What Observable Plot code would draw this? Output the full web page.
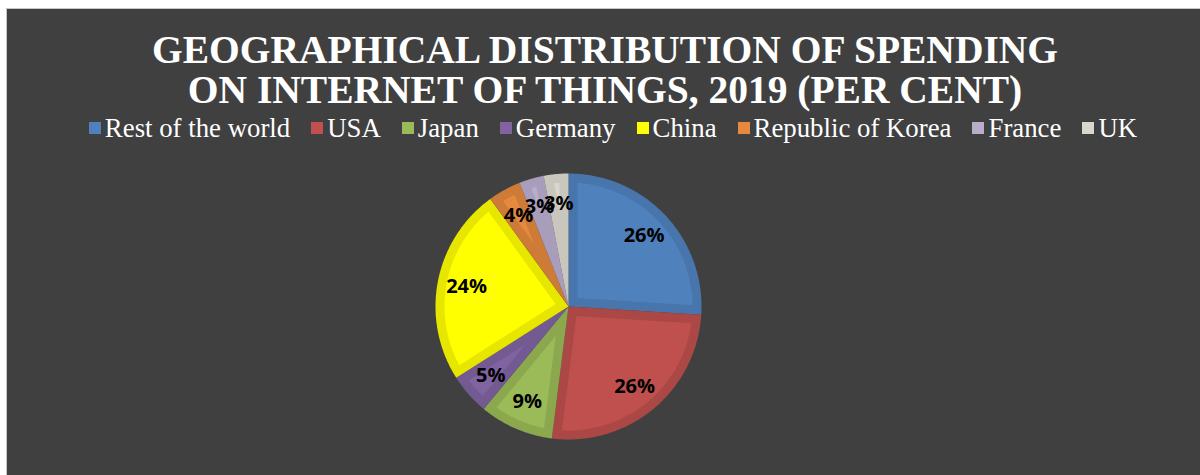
<!DOCTYPE html>
<html>
<head>
<meta charset="utf-8">
<script src="https://cdn.jsdelivr.net/npm/d3@7"></script>
<script src="https://cdn.jsdelivr.net/npm/@observablehq/plot@0.6"></script>
<style>
html, body { margin: 0; padding: 0; background: #ffffff; width: 1200px; height: 475px; overflow: hidden; }
#frame { position: absolute; left: 6px; top: 8px; width: 1194px; height: 467px; background: #404040; border-left: 1px solid #c6c6c6; border-top: 1px solid #c6c6c6; box-sizing: border-box; }
#title { position: absolute; left: 0; top: 30px; width: 1210px; text-align: center; font: bold 39.5px/40px "Liberation Serif", "Times New Roman", serif; color: #ffffff; white-space: nowrap; }
#legend { position: absolute; left: 0; top: 113px; width: 1226px; text-align: center; font: 26.8px/30px "Liberation Serif", "Times New Roman", serif; color: #ffffff; white-space: nowrap; }
#legend .item { display: inline-block; margin-right: 21px; }
#legend .item:last-child { margin-right: 0; }
#legend .sw { display: inline-block; width: 12px; height: 12px; margin-right: 4px; position: relative; top: -3px; vertical-align: baseline; }
#chart { position: absolute; left: 428px; top: 166px; }
</style>
</head>
<body>
<div id="frame"></div>
<div id="title">GEOGRAPHICAL DISTRIBUTION OF SPENDING<br>ON INTERNET OF THINGS, 2019 (PER CENT)</div>
<div id="legend"></div>
<div id="chart"></div>
<script>
// ---- data ----
const categories = ["Rest of the world", "USA", "Japan", "Germany", "China", "Republic of Korea", "France", "UK"];
const shares = [26, 26, 9, 5, 24, 4, 3, 3];
const labels = ["26%", "26%", "9%", "5%", "24%", "4%", "3%", "3%"];

// ---- palette ----
const mainColors = ["#4F81BD", "#C0504D", "#9BBB59", "#8064A2", "#FFFF00", "#E5893F", "#B8ADCB", "#D9D6CD"];
const edgeColors = ["#4775AC", "#AB4845", "#8BA84F", "#735A92", "#E6E600", "#CF7B38", "#A89DBB", "#C9C6BD"];

// ---- legend ----
const legend = document.getElementById("legend");
categories.forEach((c, i) => {
  const item = document.createElement("span");
  item.className = "item";
  const sw = document.createElement("span");
  sw.className = "sw";
  sw.style.background = mainColors[i];
  item.appendChild(sw);
  item.appendChild(document.createTextNode(c));
  legend.appendChild(item);
});

// ---- pie geometry (derived from shares) ----
const arcs = d3.pie().sort(null).startAngle(0).endAngle(2 * Math.PI)(shares);
const inset = 9 / 133;
const step = Math.PI / 360;
const outerRows = [];
const innerRows = [];
const labelRows = [];

arcs.forEach((a, i) => {
  const a0 = a.startAngle, a1 = a.endAngle;
  // outer wedge
  const ko = "o" + i;
  outerRows.push({key: ko, x: 0, y: 0, color: edgeColors[i]});
  const n = Math.max(2, Math.ceil((a1 - a0) / step));
  for (let k = 0; k <= n; k++) {
    const t = a0 + (a1 - a0) * k / n;
    outerRows.push({key: ko, x: Math.sin(t), y: Math.cos(t), color: edgeColors[i]});
  }
  outerRows.push({key: ko, x: 0, y: 0, color: edgeColors[i]});

  // inner (inset) wedge
  const h = (a1 - a0) / 2, m = (a0 + a1) / 2, R = 1 - inset;
  const s = inset / Math.sin(h);
  if (s < R) {
    const ch = Math.cos(h), sh = Math.sin(h);
    const tt = -s * ch + Math.sqrt(s * s * ch * ch - s * s + R * R);
    const phi = Math.atan2(tt * sh, s + tt * ch);
    const ki = "i" + i;
    innerRows.push({key: ki, x: s * Math.sin(m), y: s * Math.cos(m), color: mainColors[i]});
    const ni = Math.max(2, Math.ceil((2 * phi) / step));
    for (let k = 0; k <= ni; k++) {
      const t = m - phi + 2 * phi * k / ni;
      innerRows.push({key: ki, x: R * Math.sin(t), y: R * Math.cos(t), color: mainColors[i]});
    }
    innerRows.push({key: ki, x: s * Math.sin(m), y: s * Math.cos(m), color: mainColors[i]});
  }

  // label
  const lr = 0.78;
  labelRows.push({x: lr * Math.sin(m), y: lr * Math.cos(m), text: labels[i]});
});

const plot = Plot.plot({
  width: 280,
  height: 280,
  margin: 7,
  x: {domain: [-1, 1], axis: null},
  y: {domain: [-1, 1], axis: null},
  color: {type: "identity"},
  style: {background: "transparent", overflow: "visible"},
  marks: [
    Plot.line(outerRows, {x: "x", y: "y", z: "key", fill: "color", stroke: "none", curve: "linear"}),
    Plot.line(innerRows, {x: "x", y: "y", z: "key", fill: "color", stroke: "none", curve: "linear"}),
    Plot.text(labelRows, {x: "x", y: "y", text: "text", fill: "#000000", fontSize: 20, fontWeight: "bold", fontFamily: "Open Sans"})
  ]
});
document.getElementById("chart").appendChild(plot);
</script>
</body>
</html>
